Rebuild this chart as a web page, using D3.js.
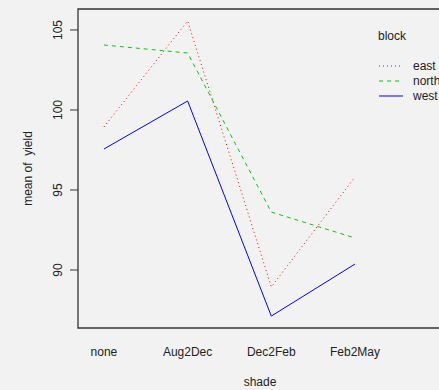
<!DOCTYPE html>
<html>
<head>
<meta charset="UTF-8">
<style>
  html, body { margin: 0; background: #f2f2f2; }
  svg { display: block; font-family: "Liberation Sans", Arial, sans-serif; }
</style>
</head>
<body>
<svg id="chart" width="439" height="390"></svg>
<script src="https://cdnjs.cloudflare.com/ajax/libs/d3/7.8.5/d3.min.js"></script>
<script>
  const shade = ['none', 'Aug2Dec', 'Dec2Feb', 'Feb2May'];
  const blocks = ['east', 'north', 'west'];
  const east = [98.94, 105.56, 88.94, 95.81];
  const north = [104.06, 103.56, 93.62, 92.0];
  const west = [97.56, 100.56, 87.12, 90.37];
  const yTicks = [90, 95, 100, 105];

  const series = [
    { name: 'east', values: east, color: '#ff0000', dash: '1,3' },
    { name: 'north', values: north, color: '#00cd00', dash: '4,4' },
    { name: 'west', values: west, color: '#0000ff', dash: null }
  ];

  const plotLeft = 78, plotTop = 9, plotBottom = 328, plotRight = 442;
  const svg = d3.select('#chart');

  // x runs over level index, extended to leave room for legend like interaction.plot
  const x = d3.scaleLinear().domain([0.69, 5.04]).range([plotLeft, plotRight]);
  const y = d3.scaleLinear().domain([86.375, 106.31]).range([plotBottom, plotTop]);

  // box (right edge falls outside the window)
  svg.append('path')
    .attr('d', `M${plotRight},${plotTop}H${plotLeft}V${plotBottom}H${plotRight}`)
    .attr('fill', 'none').attr('stroke', '#333').attr('stroke-width', 1.3);

  // y axis
  const yAxis = svg.append('g');
  yTicks.forEach(t => {
    yAxis.append('line')
      .attr('x1', plotLeft - 8).attr('x2', plotLeft)
      .attr('y1', y(t)).attr('y2', y(t))
      .attr('stroke', '#333');
    yAxis.append('text')
      .attr('transform', `translate(${plotLeft - 16},${y(t)}) rotate(-90)`)
      .attr('text-anchor', 'middle')
      .attr('font-size', 12)
      .attr('fill', '#222')
      .text(t);
  });

  // x labels (no ticks)
  shade.forEach((s, i) => {
    svg.append('text')
      .attr('x', x(i + 1)).attr('y', 356)
      .attr('text-anchor', 'middle')
      .attr('font-size', 12)
      .attr('fill', '#222')
      .text(s);
  });

  svg.append('text')
    .attr('x', (plotLeft + plotRight) / 2).attr('y', 386)
    .attr('text-anchor', 'middle')
    .attr('font-size', 12).attr('fill', '#222')
    .text('shade');

  svg.append('text')
    .attr('transform', `translate(32,${(plotTop + plotBottom) / 2}) rotate(-90)`)
    .attr('text-anchor', 'middle')
    .attr('font-size', 12).attr('fill', '#222')
    .style('white-space', 'pre')
    .text('mean of  yield');

  const line = d3.line().x((d, i) => x(i + 1)).y(d => y(d));

  series.forEach(s => {
    svg.append('path')
      .attr('d', line(s.values))
      .attr('fill', 'none')
      .attr('stroke', s.color)
      .attr('stroke-width', 1)
      .attr('stroke-dasharray', s.dash);
  });

  // legend
  svg.append('text')
    .attr('x', 378).attr('y', 40)
    .attr('font-size', 12).attr('fill', '#222')
    .text('block');

  series.forEach((s, i) => {
    const ly = 66 + i * 15;
    svg.append('line')
      .attr('x1', 379).attr('x2', 403)
      .attr('y1', ly).attr('y2', ly)
      .attr('stroke', s.color)
      .attr('stroke-dasharray', s.dash);
    svg.append('text')
      .attr('x', 413).attr('y', ly + 4)
      .attr('font-size', 12).attr('fill', '#222')
      .text(s.name);
  });
</script>
</body>
</html>
